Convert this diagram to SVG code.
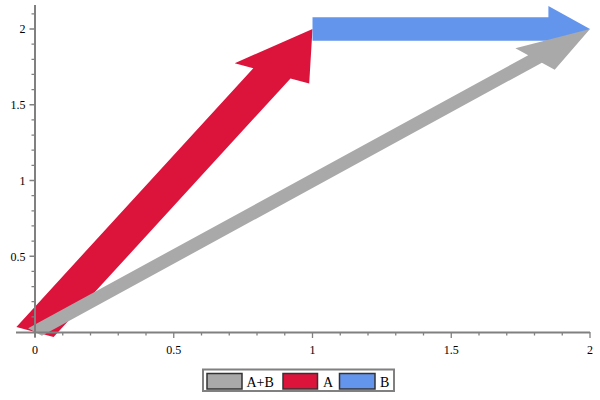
<svg xmlns="http://www.w3.org/2000/svg" width="600" height="400" viewBox="0 0 600 400">
<style>
.ax{stroke:#808080;stroke-width:2;fill:none}
.tk{stroke:#808080;stroke-width:1.3;fill:none}
.lbl{font-family:"Liberation Serif","Times New Roman",serif;font-size:12px;fill:#000}
.leg{font-family:"Liberation Serif","Times New Roman",serif;font-size:14px;fill:#000}
.sw{stroke:#333;stroke-width:1.5}
</style>
<rect width="600" height="400" fill="#fff"/>
<g id="arrows">
<g id="arrow-A"><polygon fill="#DC143C" points="16.4,326.9 253.3,68.2 234.7,63.2 312.5,29 309.2,83.5 290.5,78.4 53.6,337.1"/></g>
<g id="arrow-B"><polygon fill="#6495ED" points="312.5,17.3 548.4,17.3 548.4,6 590,29 548.4,52 548.4,40.7 312.5,40.7"/></g>
<g id="arrow-AB"><polygon fill="#A9A9A9" points="28.1,328.3 528.2,55.3 515.4,48.3 590,29 554.7,69.7 541.9,62.7 41.9,335.7"/></g>
</g>
<g id="axes">
<path class="ax" d="M16,332.5H590M35,5V337"/>
<path class="tk" d="M35,332V338M173.75,332V338M312.5,332V338M451.25,332V338M590,332V338
M62.75,332V335.5M90.5,332V335.5M118.25,332V335.5M146,332V335.5M201.5,332V335.5M229.25,332V335.5M257,332V335.5M284.75,332V335.5M340.25,332V335.5M368,332V335.5M395.75,332V335.5M423.5,332V335.5M479,332V335.5M506.75,332V335.5M534.5,332V335.5M562.25,332V335.5"/>
<path class="tk" d="M29.5,256.25H35M29.5,180.5H35M29.5,104.75H35M29.5,29H35
M31.5,316.85H35M31.5,301.7H35M31.5,286.55H35M31.5,271.4H35M31.5,241.1H35M31.5,225.95H35M31.5,210.8H35M31.5,195.65H35M31.5,165.35H35M31.5,150.2H35M31.5,135.05H35M31.5,119.9H35M31.5,89.6H35M31.5,74.45H35M31.5,59.3H35M31.5,44.15H35M31.5,13.85H35"/>
<g class="lbl" text-anchor="middle">
<text x="35" y="354">0</text>
<text x="173.75" y="354">0.5</text>
<text x="312.5" y="354">1</text>
<text x="451.25" y="354">1.5</text>
<text x="590" y="354">2</text>
</g>
<g class="lbl" text-anchor="end">
<text x="25.5" y="260.5">0.5</text>
<text x="25.5" y="184.8">1</text>
<text x="25.5" y="109">1.5</text>
<text x="25.5" y="33.3">2</text>
</g>
</g>
<g id="legend">
<rect x="203" y="369.5" width="191" height="21.5" fill="#fff" stroke="#808080" stroke-width="2"/>
<rect class="sw" x="207" y="373.5" width="35" height="15.5" fill="#A9A9A9"/>
<text class="leg" x="246.5" y="387">A+B</text>
<rect class="sw" x="283" y="373.5" width="34.5" height="15.5" fill="#DC143C"/>
<text class="leg" x="323" y="387">A</text>
<rect class="sw" x="339.5" y="373.5" width="35.5" height="15.5" fill="#6495ED"/>
<text class="leg" x="380" y="387">B</text>
</g>
</svg>
